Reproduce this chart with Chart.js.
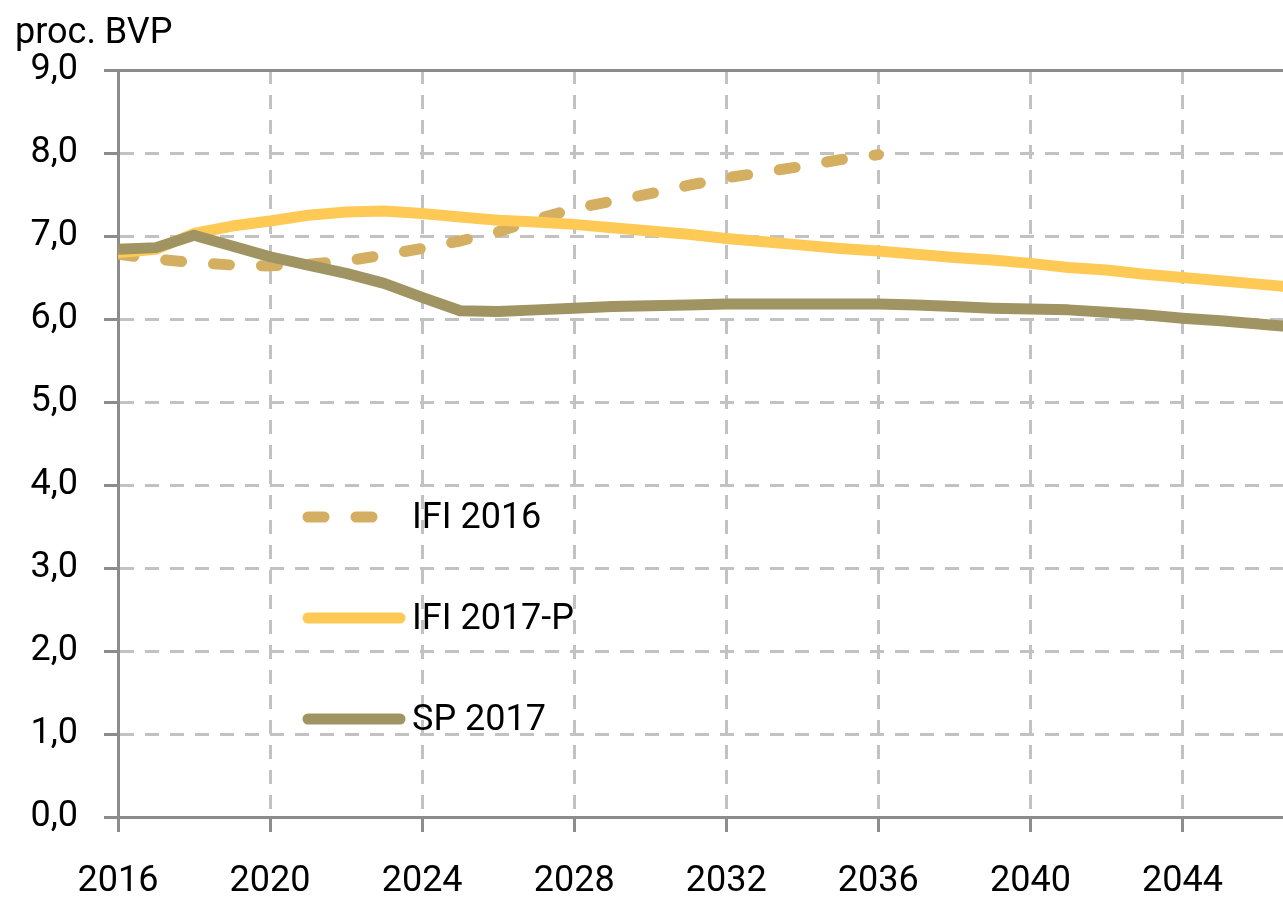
<!DOCTYPE html>
<html>
<head>
<meta charset="utf-8">
<script src="https://cdn.jsdelivr.net/npm/chart.js@4/dist/chart.umd.min.js"></script>
<style>
  html, body { margin: 0; padding: 0; background: #fff; overflow: hidden; }
  #wrap { width: 1283px; height: 900px; overflow: hidden; }
</style>
</head>
<body>
<div id="wrap"><canvas id="myChart" width="1403" height="900"></canvas></div>
<script>
const unitLabel = 'proc. BVP';

const yearsIfi16 = [2016, 2017, 2018, 2019, 2020, 2021, 2022, 2023, 2024, 2025, 2026,
  2027, 2028, 2029, 2030, 2031, 2032, 2033, 2034, 2035, 2036];
const ifi2016 = [6.78, 6.72, 6.68, 6.65, 6.64, 6.66, 6.70, 6.77, 6.85, 6.94, 7.05,
  7.20, 7.33, 7.42, 7.51, 7.61, 7.70, 7.77, 7.84, 7.92, 7.98];

const years = [2016, 2017, 2018, 2019, 2020, 2021, 2022, 2023, 2024, 2025, 2026,
  2027, 2028, 2029, 2030, 2031, 2032, 2033, 2034, 2035, 2036, 2037,
  2038, 2039, 2040, 2041, 2042, 2043, 2044, 2045, 2046, 2047, 2048];
const ifi2017p = [6.80, 6.84, 7.03, 7.12, 7.18, 7.25, 7.29, 7.30, 7.27, 7.23, 7.19,
  7.17, 7.14, 7.10, 7.06, 7.02, 6.97, 6.93, 6.89, 6.85, 6.82, 6.78,
  6.74, 6.71, 6.67, 6.62, 6.59, 6.54, 6.50, 6.46, 6.42, 6.38, 6.35];
const sp2017 = [6.84, 6.86, 7.01, 6.88, 6.75, 6.65, 6.55, 6.43, 6.26, 6.10, 6.09,
  6.11, 6.13, 6.15, 6.16, 6.17, 6.18, 6.18, 6.18, 6.18, 6.18, 6.17,
  6.15, 6.13, 6.12, 6.11, 6.08, 6.05, 6.01, 5.98, 5.94, 5.90, 5.86];

const seriesNames = ['IFI 2016', 'IFI 2017-P', 'SP 2017'];
const seriesColors = ['#d4af62', '#ffc955', '#a09462'];

const font = { family: 'Roboto', size: 36 };
const axisGrey = '#8c8c8c';
const gridGrey = '#c2c2c2';

const toPoints = (xs, ys) => ys.map((v, i) => ({ x: xs[i], y: v }));

// unit label and the legend inside the plot
const overlay = {
  id: 'overlay',
  afterDatasetsDraw(chart) {
    const { ctx } = chart;
    ctx.save();
    ctx.fillStyle = '#000';
    ctx.font = `${font.size}px ${font.family}`;
    ctx.textBaseline = 'alphabetic';
    ctx.textAlign = 'left';
    ctx.fillText(unitLabel, 15, 43);

    const rows = [517, 618, 719];
    chart.data.datasets.forEach((ds, i) => {
      const y = rows[i];
      ctx.beginPath();
      ctx.lineWidth = ds.borderWidth;
      ctx.strokeStyle = ds.borderColor;
      ctx.lineCap = 'round';
      ctx.setLineDash(ds.borderDash || []);
      ctx.moveTo(308, y);
      ctx.lineTo(i === 0 ? 380 : 400, y);
      ctx.stroke();
      ctx.setLineDash([]);
      ctx.textBaseline = 'middle';
      ctx.fillText(ds.label, 412, y + 2);
    });
    ctx.restore();
  }
};

const lineDs = (label, data, i, extra) => Object.assign({
  label,
  data,
  borderColor: seriesColors[i],
  backgroundColor: seriesColors[i],
  borderWidth: 11,
  pointRadius: 0,
  tension: 0,
  borderJoinStyle: 'round',
  borderCapStyle: 'butt',
  fill: false,
}, extra);

const ctx = document.getElementById('myChart').getContext('2d');
new Chart(ctx, {
  type: 'line',
  data: {
    datasets: [
      lineDs(seriesNames[0], toPoints(yearsIfi16, ifi2016), 0, { borderDash: [16, 32], borderCapStyle: 'round', order: 3 }),
      lineDs(seriesNames[1], toPoints(years, ifi2017p), 1, { order: 2 }),
      lineDs(seriesNames[2], toPoints(years, sp2017), 2, { order: 1 }),
    ],
  },
  options: {
    responsive: false,
    animation: false,
    layout: { padding: { top: 70, right: 50, left: 0, bottom: 0 } },
    plugins: { legend: { display: false }, tooltip: { enabled: false }, title: { display: false } },
    scales: {
      x: {
        type: 'linear',
        min: 2016,
        max: 2048,
        afterFit(scale) { scale.height = 83; },
        ticks: {
          stepSize: 4,
          color: '#000',
          font,
          padding: 28,
          maxRotation: 0,
          callback: v => String(v),
        },
        grid: {
          color: gridGrey,
          lineWidth: 3,
          tickLength: 15,
          tickColor: axisGrey,
          tickWidth: 3,
          tickBorderDash: [],
        },
        border: { color: axisGrey, width: 3, dash: [14, 11] },
      },
      xTop: {
        type: 'linear',
        position: 'top',
        min: 2016,
        max: 2048,
        afterFit(scale) { scale.height = 0; },
        ticks: { display: false },
        grid: { display: false, drawTicks: false },
        border: { color: axisGrey, width: 3 },
      },
      y: {
        min: 0,
        max: 9,
        afterFit(scale) { scale.width = 118; },
        ticks: {
          stepSize: 1,
          color: '#000',
          font,
          padding: 26,
          callback: v => v.toFixed(1).replace('.', ','),
        },
        grid: {
          color: gridGrey,
          lineWidth: 3,
          tickLength: 14,
          tickColor: axisGrey,
          tickWidth: 3,
          tickBorderDash: [],
        },
        border: { color: axisGrey, width: 3, dash: [14, 11] },
      },
    },
  },
  plugins: [overlay],
});
</script>
</body>
</html>
